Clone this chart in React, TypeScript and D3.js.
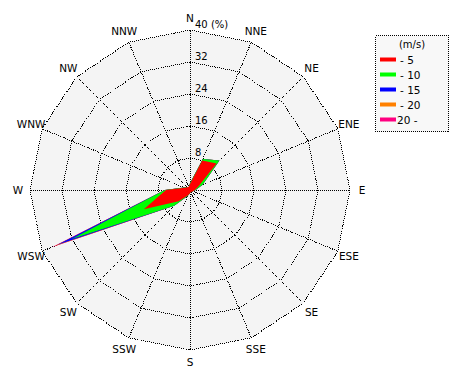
import React from "react";
import * as d3 from "d3";

const directions = ["N", "NNE", "NE", "ENE", "E", "ESE", "SE", "SSE", "S", "SSW", "SW", "WSW", "W", "WNW", "NW", "NNW"];
// frequency (%) per speed class per direction
const speed0to5 = [1.5, 8.0, 9.4, 2.2, 1.2, 0.8, 0.6, 0.6, 0.8, 1.5, 4.0, 12.5, 6.0, 1.5, 1.0, 0.8];
const speed5to10 = [0.2, 0.4, 1.0, 1.2, 0.2, 0.0, 0.0, 0.0, 0.0, 0.1, 1.6, 19.5, 0.3, 0.1, 0.0, 0.0];
const speed10to15 = [0, 0, 0, 0, 0, 0, 0, 0, 0, 0, 0, 4.0, 0, 0, 0, 0];
const speed15to20 = [0, 0, 0, 0, 0, 0, 0, 0, 0, 0, 0, 0.7, 0, 0, 0, 0];
const speed20plus = [0, 0, 0, 0, 0, 0, 0, 0, 0, 0, 0, 0.7, 0, 0, 0, 0];
const seriesLabels = ["- 5", "- 10", "- 15", "- 20", "20 -"];
const seriesColors = ["#ff0000", "#00ff00", "#0000ff", "#ff8000", "#ff0080"];
const ringTicks = [8, 16, 24, 32, 40];

const cx = 190;
const cy = 190;
const R = 160;

export default function App() {
  const r = d3.scaleLinear().domain([0, 40]).range([0, R]);
  const series = [speed0to5, speed5to10, speed10to15, speed15to20, speed20plus];
  const cum: number[][] = [];
  series.forEach((s, i) => {
    cum.push(s.map((v, j) => v + (i > 0 ? cum[i - 1][j] : 0)));
  });
  const ang = (i: number) => (i * 2 * Math.PI) / 16;
  const pt = (i: number, v: number): [number, number] => [
    cx + r(v) * Math.sin(ang(i)),
    cy - r(v) * Math.cos(ang(i)),
  ];
  const line = d3.line<[number, number]>().curve(d3.curveLinearClosed);
  const ringPath = (v: number) => line(directions.map((_, i) => pt(i, v))) as string;

  return (
    <svg width={470} height={380} style={{ position: "absolute", left: 0, top: 0 }} fontFamily="DejaVu Sans, sans-serif">
      <rect width={470} height={380} fill="#ffffff" />
      <path d={ringPath(40)} fill="#f4f4f4" />
      {ringTicks.map((t) => (
        <path key={t} d={ringPath(t)} fill="none" stroke="#000" strokeDasharray="1 1" shapeRendering="crispEdges" />
      ))}
      {directions.map((_, i) => {
        const [x, y] = pt(i, 40);
        return <line key={i} x1={cx} y1={cy} x2={x} y2={y} stroke="#000" strokeDasharray="1 1" shapeRendering="crispEdges" />;
      })}
      {cum.map((_, k) => {
        const idx = cum.length - 1 - k;
        const vals = cum[idx];
        return (
          <path key={idx} d={line(vals.map((v, i) => pt(i, v))) as string} fill={seriesColors[idx]} stroke="none" />
        );
      })}
      {ringTicks.map((t) => (
        <text key={t} x={cx + 5} y={cy - r(t) - 2} fontSize={10} fill="#000">
          {t === 40 ? "40 (%)" : t}
        </text>
      ))}
      {directions.map((d, i) => {
        const [x, y] = pt(i, 43);
        return (
          <text key={d} x={x} y={y} fontSize={10.5} textAnchor="middle" dominantBaseline="central" fill="#000">
            {d}
          </text>
        );
      })}
      <g>
        <rect x={375.5} y={35.5} width={73} height={96} fill="#f8f8f8" stroke="#000" strokeDasharray="1 1" shapeRendering="crispEdges" />
        <text x={412} y={48} fontSize={10} textAnchor="middle" fill="#000">(m/s)</text>
        {seriesLabels.map((lab, i) => (
          <g key={lab}>
            <rect x={380} y={57.5 + i * 15} width={16} height={4} fill={seriesColors[i]} />
            <text x={i === 4 ? 397 : 400} y={59.5 + i * 15} fontSize={10.5} dominantBaseline="central" fill="#000">
              {lab}
            </text>
          </g>
        ))}
      </g>
    </svg>
  );
}
